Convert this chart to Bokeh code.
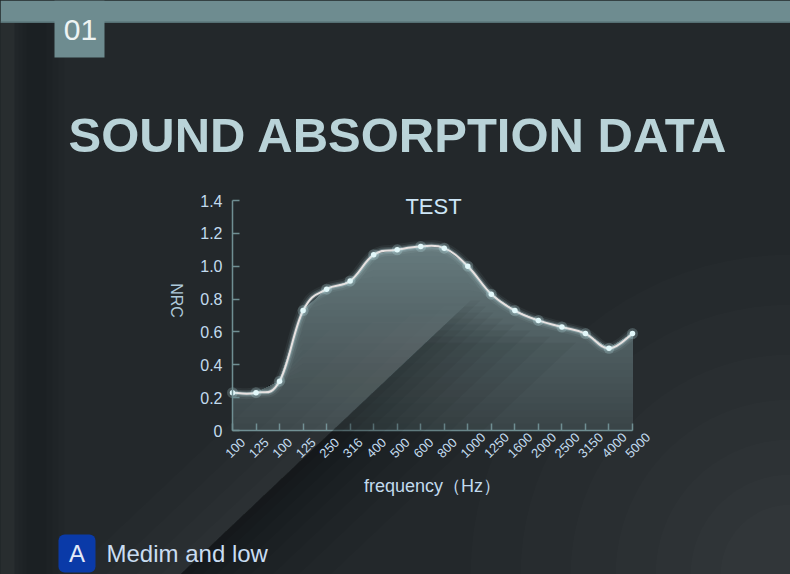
import numpy as np
from bokeh.plotting import figure
from bokeh.models import (Range1d, FixedTicker, LabelSet, Label, ColumnDataSource,
                          BoxAnnotation, PolyAnnotation, CustomJSTickFormatter)
from bokeh.core.properties import value
from bokeh.embed import file_html
from bokeh.resources import INLINE

# ---------------- data ----------------
freq_labels = ["100", "125", "100", "125", "250", "316", "400", "500", "600", "800",
               "1000", "1250", "1600", "2000", "2500", "3150", "4000", "5000"]
nrc_values = [0.23, 0.23, 0.30, 0.73, 0.86, 0.91, 1.07, 1.10, 1.12, 1.11,
              1.00, 0.83, 0.73, 0.67, 0.63, 0.59, 0.50, 0.59]
y_ticks = [0, 0.2, 0.4, 0.6, 0.8, 1.0, 1.2, 1.4]
chart_title = "TEST"
x_title = "frequency\uff08Hz\uff09"
y_title = "NRC"
page_title = "SOUND ABSORPTION DATA"
section_no = "01"
badge_letter = "A"
badge_text = "Medim and low"

# ---------------- layout (page pixels) ----------------
W, H = 790, 574
FL, FR, FT, FB = 232, 632, 200, 430          # chart area on the page
X0, X1 = 0, len(nrc_values) - 1
Y0, Y1 = 0, 1.4
BG = "#23282b"
BAND = "#6e8c90"
AXIS = "#6f8e92"
LABEL = "#c2dbee"
FONT = "Liberation Sans"


def dx(px):
    return X0 + (px - FL) / (FR - FL) * (X1 - X0)


def dy(py):
    return Y0 + (FB - py) / (FB - FT) * (Y1 - Y0)


p = figure(width=W, height=H, title=None,
           x_range=Range1d(dx(0), dx(W)), y_range=Range1d(dy(H), dy(0)),
           output_backend="svg", toolbar_location=None,
           min_border_left=0, min_border_right=0, min_border_top=0, min_border_bottom=0)
p.background_fill_color = BG
p.border_fill_color = BG
p.outline_line_color = None
p.grid.visible = False


def poly(pts, color, alpha, level="annotation"):
    p.add_layout(PolyAnnotation(xs=[dx(a) for a, _ in pts], ys=[dy(b) for _, b in pts],
                                fill_color=color, fill_alpha=alpha, line_color=None, level=level))


# ---------------- background decorations ----------------
poly([(0, 22), (14, 22), (14, H), (0, H)], "#ffffff", 0.025, "underlay")
for x0_, x1_, a in [(14, 64, 0.035), (18, 58, 0.035), (22, 52, 0.04), (26, 46, 0.04)]:
    poly([(x0_, 22), (x1_, 22), (x1_, H), (x0_, H)], "#000000", a, "underlay")
ang = np.linspace(np.pi, 1.5 * np.pi, 24)
for r in [320, 270, 220, 175, 135, 100, 70]:
    pts = [(W, H)] + [(W + r * np.cos(t_), H + r * np.sin(t_)) for t_ in ang]
    poly(pts, "#ffffff", 0.012, "underlay")

# top band and number box
poly([(0, 0), (W, 0), (W, 22), (0, 22)], BAND, 1.0)
poly([(0, 21), (W, 21), (W, 22.5), (0, 22.5)], "#556f73", 1.0)
poly([(54, 0), (104, 0), (104, 57), (54, 57)], BAND, 1.0)
p.add_layout(Label(x=dx(80), y=dy(29), text=section_no,
                   text_font="'Liberation Sans Narrow', 'Liberation Sans'",
                   text_font_size="30px", text_color="#eef4f4", text_align="center",
                   text_baseline="middle"))

# ---------------- area with vertical gradient ----------------
xs = np.arange(len(nrc_values))
ys = np.array(nrc_values)
c_lo = np.array([0x3a, 0x44, 0x47])
c_hi = np.array([0x68, 0x7c, 0x80])
levels = np.linspace(0, ys.max() + 0.02, 29)
for k in range(len(levels) - 2, -1, -1):
    f = (k + 0.5) / (len(levels) - 1)
    c = (c_lo + (c_hi - c_lo) * f).astype(int)
    p.varea(x=xs, y1=np.zeros(len(xs)), y2=np.minimum(ys, levels[k + 1]),
            fill_color="#%02x%02x%02x" % tuple(c), fill_alpha=1)


# diagonal beam: light on the left of the edge, soft shadow on the right
def on_edge(py):
    return 180 + (574 - py) * 290 / 274


for j, w in enumerate([10, 22, 36, 52, 70, 92, 118, 150]):
    top = 300 + j * 6
    poly([(180, H), (on_edge(top), top), (on_edge(top) + w, top), (180 + w, H)], "#000000", 0.045)
for j, w in enumerate([20, 45, 75, 110]):
    top = 305 + j * 8
    poly([(180, H), (on_edge(top), top), (on_edge(top) - w, top), (180 - w, H)], "#ffffff", 0.012)

# ---------------- smooth line (bezier through the data points) ----------------
t = 0.2
n = len(nrc_values)
bx0, by0, bx1, by1, bcx0, bcy0, bcx1, bcy1 = ([] for _ in range(8))
for i in range(n - 1):
    a = max(i - 1, 0)
    b = min(i + 2, n - 1)
    bx0.append(xs[i]); by0.append(ys[i])
    bx1.append(xs[i + 1]); by1.append(ys[i + 1])
    bcx0.append(xs[i] + (xs[i + 1] - xs[a]) * t)
    bcy0.append(ys[i] + (ys[i + 1] - ys[a]) * t)
    bcx1.append(xs[i + 1] - (xs[b] - xs[i]) * t)
    bcy1.append(ys[i + 1] - (ys[b] - ys[i]) * t)
bsrc = ColumnDataSource(dict(x0=bx0, y0=by0, x1=bx1, y1=by1, cx0=bcx0, cy0=bcy0, cx1=bcx1, cy1=bcy1))
for w, a, col in [(11, 0.06, "#c4f0f6"), (7, 0.12, "#c4f0f6"), (4, 0.25, "#d0f2f6"), (2, 1.0, "#e8e2e1")]:
    p.bezier(x0="x0", y0="y0", x1="x1", y1="y1", cx0="cx0", cy0="cy0", cx1="cx1", cy1="cy1",
             source=bsrc, line_color=col, line_width=w, line_alpha=a)

p.scatter(xs, ys, size=11, fill_color="#c8f2f8", fill_alpha=0.22, line_color=None)
p.scatter(xs, ys, size=5.5, fill_color="#e2f8fa", line_color=None)

# ---------------- axes ----------------
p.yaxis.fixed_location = X0
p.xaxis.fixed_location = Y0
p.yaxis.bounds = (Y0, Y1)
p.xaxis.bounds = (X0, X1)
p.yaxis.ticker = FixedTicker(ticks=y_ticks)
p.yaxis.formatter = CustomJSTickFormatter(code="return tick == 0 ? '0' : tick.toFixed(1);")
p.xaxis.ticker = FixedTicker(ticks=list(range(n)))
p.xaxis.formatter = CustomJSTickFormatter(code="return '';")
for ax in (p.xaxis[0], p.yaxis[0]):
    ax.axis_line_color = AXIS
    ax.axis_line_width = 1.5
    ax.major_tick_line_color = AXIS
    ax.major_tick_line_width = 1.5
    ax.major_tick_in = 7
    ax.major_tick_out = 0
    ax.minor_tick_line_color = None
    ax.major_label_text_font = FONT
    ax.major_label_text_color = LABEL
p.yaxis.major_label_text_font_size = "16px"
p.yaxis.major_label_standoff = 10

lab_src = ColumnDataSource(dict(x=list(xs), y=[0] * n, text=freq_labels))
p.add_layout(LabelSet(x="x", y="y", text="text", source=lab_src, angle=np.pi / 4,
                      x_offset=-5, y_offset=-25, text_align="left", text_baseline="middle",
                      text_font=value(FONT), text_font_size=value("13px"), text_color=LABEL))

# ---------------- texts ----------------
p.add_layout(Label(x=dx(68), y=dy(134.5), text=page_title, text_font=FONT, text_font_style="bold",
                   text_font_size="49px", text_color="#b9d3d8", text_align="left",
                   text_baseline="middle"))
p.add_layout(Label(x=dx(433), y=dy(206), text=chart_title, text_font=FONT, text_font_size="22px",
                   text_color="#cde6f7", text_align="center", text_baseline="middle"))
p.add_layout(Label(x=dx(432), y=dy(485), text=x_title, text_font=FONT, text_font_size="18px",
                   text_color=LABEL, text_align="center", text_baseline="middle"))
p.add_layout(Label(x=dx(176), y=dy(300), text=y_title, text_font=FONT, text_font_size="16px",
                   text_color="#aecadc", text_align="center", text_baseline="middle", angle=-np.pi / 2))

# badge
p.add_layout(BoxAnnotation(left=dx(58), right=dx(95), top=dy(534), bottom=dy(572),
                           fill_color="#0a3aa8", fill_alpha=1, line_color=None, border_radius=6))
p.add_layout(Label(x=dx(76.5), y=dy(553), text=badge_letter, text_font=FONT, text_font_size="24px",
                   text_color="#e3ebf8", text_align="center", text_baseline="middle"))
p.add_layout(Label(x=dx(106), y=dy(552.5), text=badge_text, text_font=FONT, text_font_size="24px",
                   text_color="#c9ddf2", text_align="left", text_baseline="middle"))

html = file_html(p, INLINE, title=page_title)
html = html.replace("</head>", "<style>html,body{margin:0;padding:0;overflow:hidden;background:#23282b}</style></head>", 1)
open("out.html", "w").write(html)
